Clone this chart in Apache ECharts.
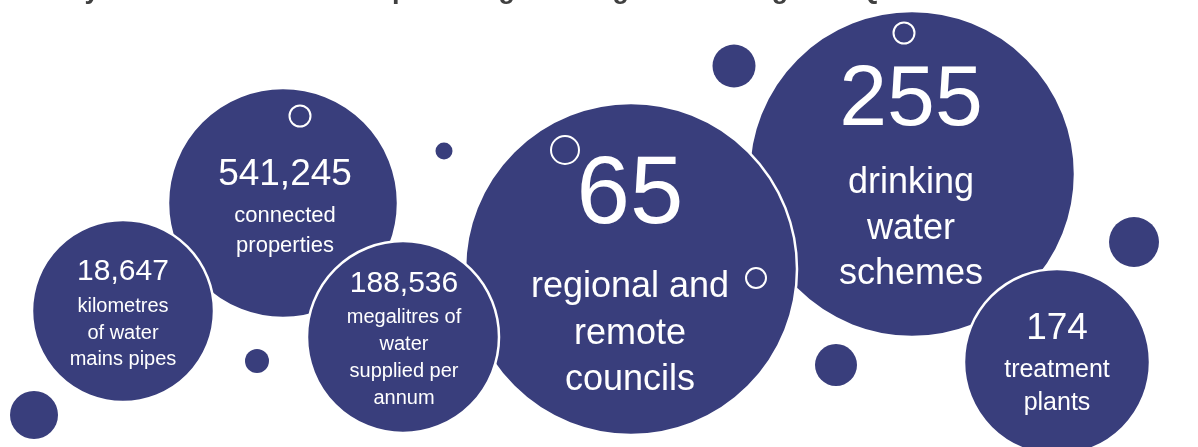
<!DOCTYPE html>
<html>
<head>
<meta charset="utf-8">
<script src="https://cdn.jsdelivr.net/npm/echarts@6/dist/echarts.min.js"></script>
<style>
html,body{margin:0;padding:0;background:#fff;}
#chart{width:1198px;height:447px;}
</style>
</head>
<body>
<div id="chart"></div>
<script>
// ---- data ----
const titleText = 'Key statistics for councils providing drinking water in regional Queensland and remote communities';
const statValues = ['541,245', '255', '65', '18,647', '188,536', '174'];
const statCaptions = [
  ['connected', 'properties'],
  ['drinking', 'water', 'schemes'],
  ['regional and', 'remote', 'councils'],
  ['kilometres', 'of water', 'mains pipes'],
  ['megalitres of', 'water', 'supplied per', 'annum'],
  ['treatment', 'plants']
];

// ---- layout (pixel space of the 1198x447 canvas) ----
const bubbleX = [283, 912, 631, 123, 403, 1057];
const bubbleY = [203, 174, 269, 311, 337, 362];
const bubbleR = [115, 163, 166, 91, 96, 93];
const numberPos = [[285, 175], [911, 101], [630, 197], [123, 272], [404, 284], [1057, 329]];
const numberFont = [37, 86, 96, 30, 30, 37];
const captionPos = [[285, 231], [911, 229], [630, 334], [123, 333], [404, 358], [1057, 387]];
const captionFont = [22, 36, 36, 20, 20, 25];
const captionLH = [30, 45.5, 46.5, 26.5, 27, 33];

const dotX = [34, 257, 444, 734, 1134, 836, 1199];
const dotY = [415, 361, 151, 66, 242, 365, 62];
const dotR = [24, 12, 8.5, 21.5, 25, 21, 9];

const ringX = [300, 565, 756, 904];
const ringY = [116, 150, 278, 33];
const ringR = [10.5, 14, 10, 10.5];

const NAVY = '#393e7c';
const FONT = '"Liberation Sans", Arial, sans-serif';

const chart = echarts.init(document.getElementById('chart'), null, {renderer: 'canvas'});

const bubbleData = statValues.map((v, i) => ({
  name: v,
  value: [bubbleX[i], bubbleY[i], bubbleR[i]]
}));
const numberData = statValues.map((v, i) => ({
  value: numberPos[i],
  label: {show: true, formatter: v, fontSize: numberFont[i]}
}));
const captionData = statCaptions.map((c, i) => ({
  value: captionPos[i],
  label: {show: true, formatter: c.join('\n'), fontSize: captionFont[i], lineHeight: captionLH[i]}
}));
const dotData = dotX.map((x, i) => [x, dotY[i], dotR[i]]);
const ringData = ringX.map((x, i) => [x, ringY[i], ringR[i]]);

chart.setOption({
  animation: false,
  title: {
    text: titleText,
    left: 50,
    top: -23,
    padding: 0,
    textStyle: {fontSize: 27, fontWeight: 'bold', color: '#404040', fontFamily: FONT}
  },
  grid: {left: 0, right: 0, top: 0, bottom: 0},
  xAxis: {type: 'value', min: 0, max: 1198, show: false},
  yAxis: {type: 'value', min: 0, max: 447, inverse: true, show: false},
  series: [
    {
      type: 'scatter',
      name: 'dots',
      data: dotData,
      symbol: 'circle',
      symbolSize: v => v[2] * 2,
      itemStyle: {color: NAVY, opacity: 1},
      silent: true
    },
    {
      type: 'scatter',
      name: 'bubbles',
      data: bubbleData,
      symbol: 'circle',
      symbolSize: v => v[2] * 2,
      itemStyle: {color: NAVY, borderColor: '#ffffff', borderWidth: 2.5, opacity: 1},
      silent: true
    },
    {
      type: 'scatter',
      name: 'rings',
      data: ringData,
      symbol: 'circle',
      symbolSize: v => v[2] * 2,
      itemStyle: {color: 'rgba(0,0,0,0)', borderColor: '#ffffff', borderWidth: 2, opacity: 1},
      silent: true
    },
    {
      type: 'scatter',
      name: 'numbers',
      data: numberData,
      symbolSize: 1,
      itemStyle: {color: 'rgba(0,0,0,0)', opacity: 1},
      label: {show: true, position: 'inside', color: '#ffffff', fontFamily: FONT},
      silent: true
    },
    {
      type: 'scatter',
      name: 'captions',
      data: captionData,
      symbolSize: 1,
      itemStyle: {color: 'rgba(0,0,0,0)', opacity: 1},
      label: {show: true, position: 'inside', color: '#ffffff', fontFamily: FONT, align: 'center'},
      silent: true
    }
  ]
});
</script>
</body>
</html>
